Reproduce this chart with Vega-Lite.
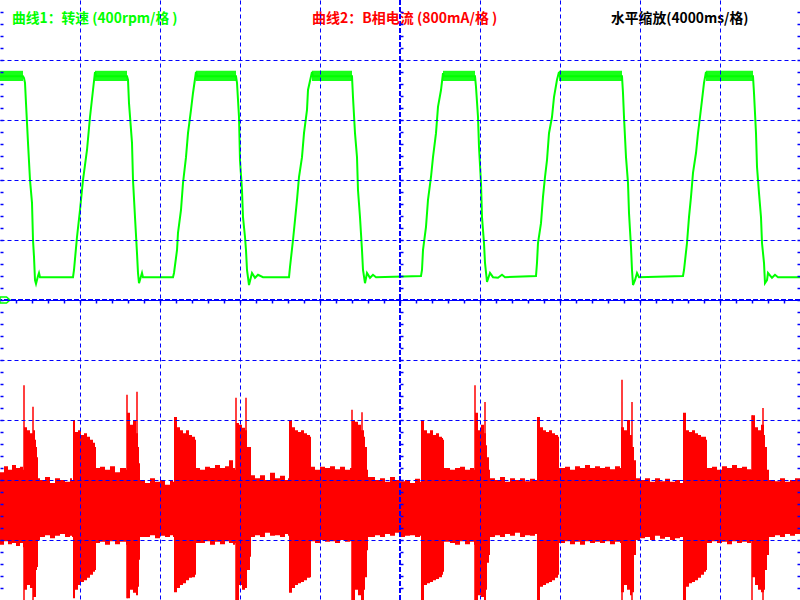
{
  "$schema": "https://vega.github.io/schema/vega-lite/v6.json",
  "width": 800,
  "height": 600,
  "autosize": {"type": "none"},
  "padding": 0,
  "background": "#ffffff",
  "config": {"view": {"stroke": null}},
  "datasets": {
    "speed": [
      {"t":0,"v":3.73},{"t":1.15,"v":3.73},{"t":1.2,"v":3.7},{"t":1.25,"v":3.62},{"t":1.3,"v":3.28},{"t":1.35,"v":2.95},{"t":1.4,"v":2.62},{"t":1.5,"v":2.0},{"t":1.6,"v":1.62},{"t":1.65,"v":1.0},{"t":1.7,"v":0.72},{"t":1.75,"v":0.33},{"t":1.8,"v":0.27},{"t":1.9,"v":0.4},{"t":1.95,"v":0.45},{"t":2.0,"v":0.38},{"t":3.65,"v":0.38},
      {"t":3.7,"v":0.5},{"t":3.85,"v":1.05},{"t":4.0,"v":1.5},{"t":4.15,"v":2.0},{"t":4.35,"v":2.5},{"t":4.5,"v":3.05},{"t":4.65,"v":3.5},{"t":4.75,"v":3.8},{"t":4.8,"v":3.73},{"t":6.35,"v":3.73},
      {"t":6.4,"v":3.67},{"t":6.45,"v":3.28},{"t":6.6,"v":2.62},{"t":6.65,"v":2.0},{"t":6.75,"v":1.38},{"t":6.85,"v":0.78},{"t":6.9,"v":0.45},{"t":6.95,"v":0.28},{"t":7.1,"v":0.45},{"t":7.15,"v":0.38},{"t":8.65,"v":0.38},
      {"t":8.7,"v":0.45},{"t":8.85,"v":0.83},{"t":8.9,"v":1.12},{"t":9.05,"v":1.5},{"t":9.15,"v":1.95},{"t":9.3,"v":2.38},{"t":9.4,"v":2.78},{"t":9.55,"v":3.17},{"t":9.65,"v":3.45},{"t":9.8,"v":3.8},{"t":9.85,"v":3.73},{"t":11.8,"v":3.73},
      {"t":11.85,"v":3.62},{"t":11.95,"v":3.05},{"t":12.0,"v":2.33},{"t":12.1,"v":1.83},{"t":12.15,"v":1.38},{"t":12.25,"v":1.05},{"t":12.3,"v":0.83},{"t":12.35,"v":0.5},{"t":12.45,"v":0.25},{"t":12.6,"v":0.45},{"t":12.75,"v":0.37},{"t":12.9,"v":0.42},{"t":13.15,"v":0.38},{"t":14.45,"v":0.38},
      {"t":14.5,"v":0.55},{"t":14.65,"v":1.0},{"t":14.75,"v":1.33},{"t":14.85,"v":1.67},{"t":14.95,"v":2.05},{"t":15.1,"v":2.38},{"t":15.2,"v":2.78},{"t":15.35,"v":3.17},{"t":15.4,"v":3.5},{"t":15.6,"v":3.8},{"t":15.65,"v":3.73},{"t":17.6,"v":3.73},
      {"t":17.65,"v":3.38},{"t":17.75,"v":2.78},{"t":17.85,"v":2.38},{"t":17.9,"v":1.83},{"t":18.0,"v":1.38},{"t":18.1,"v":0.83},{"t":18.15,"v":0.5},{"t":18.25,"v":0.28},{"t":18.35,"v":0.45},{"t":18.5,"v":0.37},{"t":18.65,"v":0.42},{"t":18.8,"v":0.38},{"t":21.05,"v":0.4},
      {"t":21.1,"v":0.5},{"t":21.15,"v":0.83},{"t":21.3,"v":1.22},{"t":21.4,"v":1.67},{"t":21.55,"v":2.05},{"t":21.65,"v":2.38},{"t":21.8,"v":2.78},{"t":21.9,"v":3.22},{"t":22.05,"v":3.5},{"t":22.15,"v":3.78},{"t":22.2,"v":3.73},{"t":23.75,"v":3.73},
      {"t":23.8,"v":3.55},{"t":23.9,"v":3.05},{"t":23.95,"v":2.55},{"t":24.05,"v":1.95},{"t":24.1,"v":1.38},{"t":24.2,"v":0.95},{"t":24.25,"v":0.62},{"t":24.35,"v":0.3},{"t":24.5,"v":0.45},{"t":24.65,"v":0.38},{"t":24.9,"v":0.37},{"t":25.1,"v":0.42},{"t":25.25,"v":0.38},{"t":26.8,"v":0.4},
      {"t":26.85,"v":0.62},{"t":26.9,"v":0.95},{"t":27.05,"v":1.28},{"t":27.15,"v":1.72},{"t":27.25,"v":2.05},{"t":27.35,"v":2.33},{"t":27.45,"v":2.78},{"t":27.6,"v":3.05},{"t":27.7,"v":3.38},{"t":27.85,"v":3.67},{"t":27.95,"v":3.8},{"t":28.0,"v":3.73},{"t":31.1,"v":3.73},
      {"t":31.15,"v":3.45},{"t":31.2,"v":3.05},{"t":31.3,"v":2.38},{"t":31.4,"v":1.95},{"t":31.45,"v":1.45},{"t":31.55,"v":0.88},{"t":31.6,"v":0.5},{"t":31.65,"v":0.25},{"t":31.75,"v":0.33},{"t":31.85,"v":0.45},{"t":31.95,"v":0.38},{"t":34.15,"v":0.4},
      {"t":34.2,"v":0.5},{"t":34.35,"v":0.95},{"t":34.45,"v":1.38},{"t":34.55,"v":1.72},{"t":34.65,"v":2.12},{"t":34.8,"v":2.45},{"t":34.9,"v":2.78},{"t":35.0,"v":3.05},{"t":35.1,"v":3.33},{"t":35.2,"v":3.62},{"t":35.3,"v":3.8},{"t":35.35,"v":3.73},{"t":37.65,"v":3.73},
      {"t":37.7,"v":3.45},{"t":37.8,"v":2.78},{"t":37.85,"v":2.22},{"t":37.95,"v":1.78},{"t":38.05,"v":1.38},{"t":38.1,"v":0.95},{"t":38.2,"v":0.62},{"t":38.25,"v":0.28},{"t":38.35,"v":0.33},{"t":38.4,"v":0.45},{"t":38.6,"v":0.37},{"t":38.75,"v":0.42},{"t":38.9,"v":0.38},{"t":40,"v":0.38}
    ],
    "speedBand": [
      {"t0":0,"t1":1.15,"hi":3.82,"lo":3.65},
      {"t0":4.75,"t1":6.35,"hi":3.82,"lo":3.65},
      {"t0":9.8,"t1":11.8,"hi":3.82,"lo":3.65},
      {"t0":15.6,"t1":17.6,"hi":3.82,"lo":3.65},
      {"t0":22.15,"t1":23.75,"hi":3.82,"lo":3.65},
      {"t0":27.95,"t1":31.1,"hi":3.82,"lo":3.65},
      {"t0":35.3,"t1":37.65,"hi":3.82,"lo":3.65}
    ],
    "current": [
      {"t":0,"hi":-2.87,"lo":-4.08},{"t":0.2,"hi":-2.77,"lo":-4.02},{"t":0.4,"hi":-2.83,"lo":-4.07},{"t":0.6,"hi":-2.75,"lo":-4.05},{"t":0.8,"hi":-2.8,"lo":-4.1},{"t":1.0,"hi":-2.78,"lo":-4.05},{"t":1.15,"hi":-2.83,"lo":-4.12},
      {"t":1.2,"hi":-2.12,"lo":-4.83},{"t":1.35,"hi":-2.17,"lo":-4.75},{"t":1.5,"hi":-2.22,"lo":-4.8},{"t":1.65,"hi":-2.17,"lo":-4.95},{"t":1.75,"hi":-2.33,"lo":-4.95},{"t":1.8,"hi":-2.45,"lo":-4.5},{"t":1.85,"hi":-2.62,"lo":-4.45},
      {"t":1.9,"hi":-2.97,"lo":-4.0},{"t":2.0,"hi":-3.0,"lo":-3.95},{"t":2.25,"hi":-2.95,"lo":-3.92},{"t":2.5,"hi":-3.05,"lo":-3.97},{"t":2.75,"hi":-2.97,"lo":-3.93},{"t":3.0,"hi":-3.0,"lo":-3.9},{"t":3.25,"hi":-3.03,"lo":-3.95},{"t":3.5,"hi":-2.97,"lo":-3.93},{"t":3.6,"hi":-3.0,"lo":-3.95},
      {"t":3.65,"hi":-2.0,"lo":-4.97},{"t":3.75,"hi":-2.2,"lo":-4.83},{"t":3.9,"hi":-2.17,"lo":-4.75},{"t":4.05,"hi":-2.25,"lo":-4.7},{"t":4.2,"hi":-2.22,"lo":-4.67},{"t":4.35,"hi":-2.28,"lo":-4.63},{"t":4.5,"hi":-2.33,"lo":-4.58},{"t":4.65,"hi":-2.38,"lo":-4.53},{"t":4.75,"hi":-2.45,"lo":-4.5},
      {"t":4.8,"hi":-2.8,"lo":-4.05},{"t":5.0,"hi":-2.78,"lo":-4.03},{"t":5.25,"hi":-2.83,"lo":-4.08},{"t":5.5,"hi":-2.77,"lo":-4.02},{"t":5.75,"hi":-2.87,"lo":-4.07},{"t":6.0,"hi":-2.8,"lo":-4.03},{"t":6.3,"hi":-2.83,"lo":-4.08},
      {"t":6.35,"hi":-1.88,"lo":-4.97},{"t":6.5,"hi":-2.08,"lo":-4.83},{"t":6.65,"hi":-2.0,"lo":-4.88},{"t":6.8,"hi":-2.22,"lo":-4.92},{"t":6.9,"hi":-2.45,"lo":-4.78},{"t":6.95,"hi":-2.72,"lo":-4.33},
      {"t":7.0,"hi":-3.0,"lo":-3.95},{"t":7.25,"hi":-3.05,"lo":-3.95},{"t":7.5,"hi":-2.97,"lo":-3.92},{"t":7.75,"hi":-3.03,"lo":-3.97},{"t":8.0,"hi":-3.0,"lo":-3.93},{"t":8.25,"hi":-3.08,"lo":-3.95},{"t":8.5,"hi":-3.0,"lo":-3.92},{"t":8.65,"hi":-3.03,"lo":-3.95},
      {"t":8.7,"hi":-1.95,"lo":-4.87},{"t":8.85,"hi":-2.12,"lo":-4.8},{"t":9.0,"hi":-2.17,"lo":-4.75},{"t":9.15,"hi":-2.22,"lo":-4.72},{"t":9.3,"hi":-2.17,"lo":-4.67},{"t":9.45,"hi":-2.25,"lo":-4.63},{"t":9.6,"hi":-2.28,"lo":-4.62},{"t":9.75,"hi":-2.33,"lo":-4.58},
      {"t":9.8,"hi":-2.8,"lo":-4.05},{"t":10.0,"hi":-2.83,"lo":-4.05},{"t":10.25,"hi":-2.78,"lo":-4.02},{"t":10.5,"hi":-2.8,"lo":-4.08},{"t":10.75,"hi":-2.75,"lo":-4.03},{"t":11.0,"hi":-2.8,"lo":-4.07},{"t":11.25,"hi":-2.77,"lo":-4.02},{"t":11.45,"hi":-2.67,"lo":-4.05},{"t":11.65,"hi":-2.8,"lo":-4.08},{"t":11.75,"hi":-2.83,"lo":-4.05},
      {"t":11.8,"hi":-2.05,"lo":-5.0},{"t":11.95,"hi":-2.08,"lo":-4.75},{"t":12.1,"hi":-2.13,"lo":-4.83},{"t":12.25,"hi":-2.17,"lo":-4.8},{"t":12.35,"hi":-2.45,"lo":-4.5},{"t":12.5,"hi":-2.45,"lo":-4.28},
      {"t":12.55,"hi":-2.92,"lo":-3.95},{"t":12.75,"hi":-2.97,"lo":-3.92},{"t":13.0,"hi":-2.92,"lo":-3.95},{"t":13.25,"hi":-3.0,"lo":-3.88},{"t":13.5,"hi":-2.88,"lo":-3.93},{"t":13.75,"hi":-2.97,"lo":-3.92},{"t":14.0,"hi":-2.93,"lo":-3.95},{"t":14.25,"hi":-3.0,"lo":-3.9},{"t":14.4,"hi":-2.97,"lo":-3.93},
      {"t":14.45,"hi":-2.0,"lo":-4.88},{"t":14.6,"hi":-2.12,"lo":-4.8},{"t":14.75,"hi":-2.17,"lo":-4.75},{"t":14.9,"hi":-2.2,"lo":-4.72},{"t":15.05,"hi":-2.17,"lo":-4.7},{"t":15.2,"hi":-2.22,"lo":-4.67},{"t":15.35,"hi":-2.25,"lo":-4.63},{"t":15.5,"hi":-2.28,"lo":-4.62},
      {"t":15.55,"hi":-2.78,"lo":-4.02},{"t":15.75,"hi":-2.83,"lo":-4.05},{"t":16.0,"hi":-2.78,"lo":-4.0},{"t":16.25,"hi":-2.8,"lo":-4.03},{"t":16.5,"hi":-2.77,"lo":-4.02},{"t":16.75,"hi":-2.82,"lo":-4.05},{"t":17.0,"hi":-2.78,"lo":-4.0},{"t":17.25,"hi":-2.83,"lo":-4.03},{"t":17.5,"hi":-2.8,"lo":-4.02},
      {"t":17.6,"hi":-2.0,"lo":-5.0},{"t":17.75,"hi":-2.03,"lo":-4.83},{"t":17.9,"hi":-2.08,"lo":-4.92},{"t":18.05,"hi":-2.17,"lo":-5.0},{"t":18.2,"hi":-2.28,"lo":-4.83},{"t":18.25,"hi":-2.45,"lo":-4.62},{"t":18.35,"hi":-2.83,"lo":-4.17},
      {"t":18.4,"hi":-2.95,"lo":-3.95},{"t":18.75,"hi":-3.0,"lo":-3.92},{"t":19.0,"hi":-2.97,"lo":-3.95},{"t":19.25,"hi":-3.03,"lo":-3.9},{"t":19.5,"hi":-2.95,"lo":-3.93},{"t":19.75,"hi":-3.0,"lo":-3.88},{"t":20.0,"hi":-3.02,"lo":-3.95},{"t":20.25,"hi":-3.0,"lo":-3.93},{"t":20.5,"hi":-3.05,"lo":-3.92},{"t":20.75,"hi":-2.98,"lo":-3.95},{"t":21.0,"hi":-3.03,"lo":-3.93},
      {"t":21.05,"hi":-2.0,"lo":-5.0},{"t":21.2,"hi":-2.17,"lo":-4.75},{"t":21.35,"hi":-2.22,"lo":-4.72},{"t":21.5,"hi":-2.17,"lo":-4.7},{"t":21.65,"hi":-2.25,"lo":-4.67},{"t":21.8,"hi":-2.22,"lo":-4.65},{"t":21.95,"hi":-2.28,"lo":-4.62},{"t":22.1,"hi":-2.3,"lo":-4.58},{"t":22.15,"hi":-2.33,"lo":-4.53},
      {"t":22.2,"hi":-2.8,"lo":-4.03},{"t":22.5,"hi":-2.83,"lo":-4.05},{"t":22.75,"hi":-2.8,"lo":-4.08},{"t":23.0,"hi":-2.78,"lo":-4.02},{"t":23.25,"hi":-2.83,"lo":-4.07},{"t":23.5,"hi":-2.8,"lo":-4.03},{"t":23.7,"hi":-2.83,"lo":-4.08},
      {"t":23.75,"hi":-1.88,"lo":-5.0},{"t":23.9,"hi":-2.17,"lo":-4.92},{"t":24.05,"hi":-2.08,"lo":-4.95},{"t":24.2,"hi":-2.22,"lo":-5.0},{"t":24.3,"hi":-2.42,"lo":-4.83},{"t":24.35,"hi":-2.62,"lo":-4.38},{"t":24.45,"hi":-2.83,"lo":-4.25},
      {"t":24.5,"hi":-2.97,"lo":-3.95},{"t":24.75,"hi":-3.0,"lo":-3.92},{"t":25.0,"hi":-2.95,"lo":-3.95},{"t":25.25,"hi":-3.03,"lo":-3.9},{"t":25.5,"hi":-2.97,"lo":-3.93},{"t":25.75,"hi":-3.0,"lo":-3.88},{"t":26.0,"hi":-2.97,"lo":-3.95},{"t":26.25,"hi":-3.02,"lo":-3.92},{"t":26.5,"hi":-2.98,"lo":-3.93},{"t":26.75,"hi":-3.0,"lo":-3.9},
      {"t":26.85,"hi":-1.95,"lo":-5.0},{"t":27.0,"hi":-2.12,"lo":-4.78},{"t":27.15,"hi":-2.17,"lo":-4.75},{"t":27.3,"hi":-2.2,"lo":-4.72},{"t":27.45,"hi":-2.17,"lo":-4.7},{"t":27.6,"hi":-2.22,"lo":-4.67},{"t":27.75,"hi":-2.25,"lo":-4.63},{"t":27.9,"hi":-2.28,"lo":-4.58},
      {"t":27.95,"hi":-2.8,"lo":-4.05},{"t":28.25,"hi":-2.78,"lo":-4.02},{"t":28.5,"hi":-2.83,"lo":-4.07},{"t":28.75,"hi":-2.77,"lo":-4.03},{"t":29.0,"hi":-2.8,"lo":-4.08},{"t":29.25,"hi":-2.75,"lo":-4.02},{"t":29.5,"hi":-2.8,"lo":-4.05},{"t":29.75,"hi":-2.77,"lo":-4.03},{"t":30.0,"hi":-2.8,"lo":-4.05},{"t":30.25,"hi":-2.78,"lo":-4.02},{"t":30.5,"hi":-2.82,"lo":-4.07},{"t":30.75,"hi":-2.77,"lo":-4.03},{"t":31.0,"hi":-2.8,"lo":-4.05},
      {"t":31.05,"hi":-2.12,"lo":-4.87},{"t":31.2,"hi":-2.17,"lo":-4.75},{"t":31.35,"hi":-2.0,"lo":-4.83},{"t":31.5,"hi":-2.25,"lo":-4.92},{"t":31.6,"hi":-2.45,"lo":-4.87},{"t":31.7,"hi":-2.67,"lo":-4.25},
      {"t":31.8,"hi":-2.97,"lo":-4.0},{"t":32.0,"hi":-3.0,"lo":-3.97},{"t":32.25,"hi":-2.97,"lo":-3.95},{"t":32.5,"hi":-3.03,"lo":-4.0},{"t":32.75,"hi":-2.97,"lo":-3.93},{"t":33.0,"hi":-3.02,"lo":-3.98},{"t":33.25,"hi":-2.98,"lo":-3.95},{"t":33.5,"hi":-3.03,"lo":-4.0},{"t":33.75,"hi":-3.0,"lo":-3.97},{"t":34.0,"hi":-3.05,"lo":-3.95},
      {"t":34.15,"hi":-1.88,"lo":-5.0},{"t":34.3,"hi":-2.17,"lo":-4.78},{"t":34.45,"hi":-2.2,"lo":-4.72},{"t":34.6,"hi":-2.17,"lo":-4.7},{"t":34.75,"hi":-2.22,"lo":-4.67},{"t":34.9,"hi":-2.25,"lo":-4.63},{"t":35.05,"hi":-2.28,"lo":-4.58},{"t":35.2,"hi":-2.28,"lo":-4.53},{"t":35.3,"hi":-2.33,"lo":-4.5},
      {"t":35.35,"hi":-2.8,"lo":-4.05},{"t":35.6,"hi":-2.78,"lo":-4.02},{"t":35.85,"hi":-2.83,"lo":-4.05},{"t":36.1,"hi":-2.77,"lo":-4.03},{"t":36.35,"hi":-2.8,"lo":-4.07},{"t":36.6,"hi":-2.75,"lo":-4.02},{"t":36.85,"hi":-2.8,"lo":-4.05},{"t":37.1,"hi":-2.78,"lo":-4.03},{"t":37.35,"hi":-2.82,"lo":-4.05},{"t":37.55,"hi":-2.83,"lo":-4.02},
      {"t":37.6,"hi":-1.92,"lo":-4.62},{"t":37.75,"hi":-2.12,"lo":-4.75},{"t":37.9,"hi":-2.17,"lo":-4.83},{"t":38.05,"hi":-2.08,"lo":-4.87},{"t":38.2,"hi":-2.25,"lo":-4.83},{"t":38.25,"hi":-2.45,"lo":-4.5},{"t":38.35,"hi":-2.83,"lo":-4.25},
      {"t":38.45,"hi":-3.0,"lo":-3.95},{"t":38.75,"hi":-3.02,"lo":-3.92},{"t":39.0,"hi":-2.97,"lo":-3.95},{"t":39.25,"hi":-3.03,"lo":-3.9},{"t":39.5,"hi":-3.0,"lo":-3.93},{"t":39.75,"hi":-2.97,"lo":-3.9},{"t":40.0,"hi":-3.02,"lo":-3.93}
    ],
    "spikes": [
      {"t":1.2,"hi":-1.42,"lo":-5.0},{"t":1.65,"hi":-1.78,"lo":-5.0},
      {"t":6.35,"hi":-1.58,"lo":-4.97},{"t":6.85,"hi":-1.53,"lo":-4.83},
      {"t":11.8,"hi":-1.63,"lo":-5.0},{"t":12.3,"hi":-1.63,"lo":-4.78},
      {"t":17.6,"hi":-1.83,"lo":-5.0},{"t":18.1,"hi":-1.87,"lo":-5.0},
      {"t":23.75,"hi":-1.42,"lo":-5.0},{"t":24.25,"hi":-1.7,"lo":-5.0},
      {"t":31.1,"hi":-1.33,"lo":-5.0},{"t":31.6,"hi":-1.7,"lo":-5.0},
      {"t":37.6,"hi":-1.92,"lo":-5.0},{"t":38.15,"hi":-1.8,"lo":-5.0}
    ]
  },
  "resolve": {"axis": {"x": "independent", "y": "independent"}},
  "layer": [
    {
      "data": {"name": "current"},
      "mark": {"type": "area", "color": "#ff0000", "interpolate": "step-after"},
      "encoding": {
        "x": {"field": "t", "type": "quantitative", "scale": {"domain": [0, 40], "nice": false, "zero": false},
          "axis": {"orient": "bottom", "zindex": 1, "values": [4, 8, 12, 16, 20, 24, 28, 32, 36], "grid": true, "gridColor": "#0000ff", "gridDash": [4, 3], "gridWidth": 1, "gridOpacity": 1, "ticks": false, "labels": false, "domain": false, "title": null}},
        "y": {"field": "hi", "type": "quantitative", "scale": {"domain": [-5, 5], "nice": false, "zero": false},
          "axis": {"orient": "left", "zindex": 1, "values": [-4, -3, -2, -1, 0, 1, 2, 3, 4], "grid": true, "gridColor": "#0000ff", "gridDash": [4, 3], "gridWidth": 1, "gridOpacity": 1, "ticks": false, "labels": false, "domain": false, "title": null}},
        "y2": {"field": "lo"}
      }
    },
    {
      "data": {"name": "spikes"},
      "mark": {"type": "rule", "color": "#ff0000", "strokeWidth": 1.5},
      "encoding": {
        "x": {"field": "t", "type": "quantitative", "scale": {"domain": [0, 40], "nice": false, "zero": false},
          "axis": {"orient": "bottom", "offset": -300, "zindex": 1, "values": [0.8,1.6,2.4,3.2,4,4.8,5.6,6.4,7.2,8,8.8,9.6,10.4,11.2,12,12.8,13.6,14.4,15.2,16,16.8,17.6,18.4,19.2,20,20.8,21.6,22.4,23.2,24,24.8,25.6,26.4,27.2,28,28.8,29.6,30.4,31.2,32,32.8,33.6,34.4,35.2,36,36.8,37.6,38.4,39.2], "grid": false, "ticks": true, "tickSize": 3, "tickColor": "#0000ff", "tickWidth": 1.5, "labels": false, "domain": false, "title": null}},
        "y": {"field": "hi", "type": "quantitative", "scale": {"domain": [-5, 5], "nice": false, "zero": false},
          "axis": {"orient": "right", "offset": -400, "zindex": 1, "values": [-4.8,-4.6,-4.4,-4.2,-4,-3.8,-3.6,-3.4,-3.2,-3,-2.8,-2.6,-2.4,-2.2,-2,-1.8,-1.6,-1.4,-1.2,-1,-0.8,-0.6,-0.4,-0.2,0.2,0.4,0.6,0.8,1,1.2,1.4,1.6,1.8,2,2.2,2.4,2.6,2.8,3,3.2,3.4,3.6,3.8,4,4.2,4.4,4.6,4.8], "grid": false, "ticks": true, "tickSize": 3, "tickColor": "#0000ff", "tickWidth": 1.5, "labels": false, "domain": false, "title": null}},
        "y2": {"field": "lo"}
      }
    },
    {
      "data": {"name": "speedBand"},
      "mark": {"type": "rect", "color": "#00ff00", "opacity": 0.9},
      "encoding": {
        "x": {"field": "t0", "type": "quantitative", "scale": {"domain": [0, 40], "nice": false, "zero": false}, "axis": null},
        "x2": {"field": "t1"},
        "y": {"field": "hi", "type": "quantitative", "scale": {"domain": [-5, 5], "nice": false, "zero": false},
          "axis": {"orient": "right", "offset": -800, "zindex": 1, "values": [-4.8,-4.6,-4.4,-4.2,-4,-3.8,-3.6,-3.4,-3.2,-3,-2.8,-2.6,-2.4,-2.2,-2,-1.8,-1.6,-1.4,-1.2,-1,-0.8,-0.6,-0.4,-0.2,0,0.2,0.4,0.6,0.8,1,1.2,1.4,1.6,1.8,2,2.2,2.4,2.6,2.8,3,3.2,3.4,3.6,3.8,4,4.2,4.4,4.6,4.8], "grid": false, "ticks": true, "tickSize": 3, "tickColor": "#0000ff", "tickWidth": 1.5, "labels": false, "domain": false, "title": null}},
        "y2": {"field": "lo"}
      }
    },
    {
      "data": {"name": "speed"},
      "mark": {"type": "line", "color": "#00ff00", "strokeWidth": 2},
      "encoding": {
        "x": {"field": "t", "type": "quantitative", "scale": {"domain": [0, 40], "nice": false, "zero": false}, "axis": null},
        "y": {"field": "v", "type": "quantitative", "scale": {"domain": [-5, 5], "nice": false, "zero": false},
          "axis": {"orient": "left", "offset": -800, "zindex": 1, "values": [-4.8,-4.6,-4.4,-4.2,-4,-3.8,-3.6,-3.4,-3.2,-3,-2.8,-2.6,-2.4,-2.2,-2,-1.8,-1.6,-1.4,-1.2,-1,-0.8,-0.6,-0.4,-0.2,0,0.2,0.4,0.6,0.8,1,1.2,1.4,1.6,1.8,2,2.2,2.4,2.6,2.8,3,3.2,3.4,3.6,3.8,4,4.2,4.4,4.6,4.8], "grid": false, "ticks": true, "tickSize": 3, "tickColor": "#0000ff", "tickWidth": 1.5, "labels": false, "domain": false, "title": null}}
      }
    },
    {
      "data": {"values": [{}]},
      "mark": {"type": "rule", "color": "#0000ff", "strokeWidth": 2, "strokeDash": [5, 2]},
      "encoding": {
        "y": {"datum": 0, "type": "quantitative", "scale": {"domain": [-5, 5], "nice": false, "zero": false}, "axis": null}
      }
    },
    {
      "data": {"values": [{}]},
      "mark": {"type": "rule", "color": "#0000ff", "strokeWidth": 2, "strokeDash": [5, 2]},
      "encoding": {
        "x": {"datum": 20, "type": "quantitative", "scale": {"domain": [0, 40], "nice": false, "zero": false}, "axis": null}
      }
    },
    {
      "data": {"values": [{}]},
      "mark": {"type": "point", "shape": "M -1 -0.6 L 0.3 -0.6 L 1 0 L 0.3 0.6 L -1 0.6 Z", "size": 100, "filled": false, "stroke": "#00ff00", "strokeWidth": 1.5, "opacity": 1},
      "encoding": {
        "x": {"datum": 0.25, "type": "quantitative", "scale": {"domain": [0, 40], "nice": false, "zero": false}, "axis": null},
        "y": {"datum": 0, "type": "quantitative", "scale": {"domain": [-5, 5], "nice": false, "zero": false}, "axis": null}
      }
    },
    {
      "data": {"values": [{}]},
      "mark": {"type": "text", "text": "曲线1：转速 (400rpm/格 )", "color": "#00ff00", "font": "Noto Sans CJK SC", "fontWeight": "bold", "fontSize": 13.8, "align": "left", "baseline": "middle"},
      "encoding": {
        "x": {"datum": 0.6, "type": "quantitative", "scale": {"domain": [0, 40], "nice": false, "zero": false}, "axis": null},
        "y": {"datum": 4.68, "type": "quantitative", "scale": {"domain": [-5, 5], "nice": false, "zero": false}, "axis": null}
      }
    },
    {
      "data": {"values": [{}]},
      "mark": {"type": "text", "text": "曲线2：B相电流 (800mA/格 )", "color": "#ff0000", "font": "Noto Sans CJK SC", "fontWeight": "bold", "fontSize": 14, "align": "left", "baseline": "middle"},
      "encoding": {
        "x": {"datum": 15.6, "type": "quantitative", "scale": {"domain": [0, 40], "nice": false, "zero": false}, "axis": null},
        "y": {"datum": 4.68, "type": "quantitative", "scale": {"domain": [-5, 5], "nice": false, "zero": false}, "axis": null}
      }
    },
    {
      "data": {"values": [{}]},
      "mark": {"type": "text", "text": "水平缩放(4000ms/格)", "color": "#000000", "font": "Noto Sans CJK SC", "fontWeight": "bold", "fontSize": 13.8, "align": "left", "baseline": "middle"},
      "encoding": {
        "x": {"datum": 30.55, "type": "quantitative", "scale": {"domain": [0, 40], "nice": false, "zero": false}, "axis": null},
        "y": {"datum": 4.68, "type": "quantitative", "scale": {"domain": [-5, 5], "nice": false, "zero": false}, "axis": null}
      }
    }
  ]
}
